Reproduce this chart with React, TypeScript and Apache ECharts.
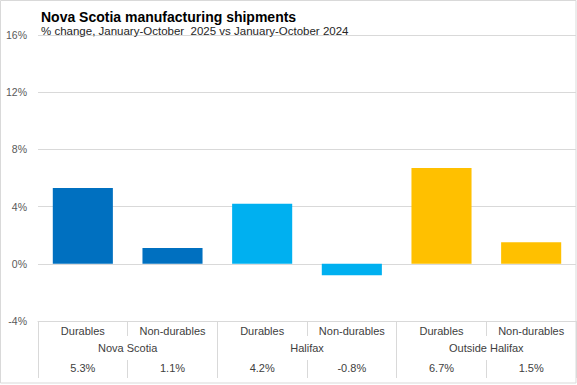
import React, { useEffect, useRef } from "react";
import * as echarts from "echarts";

const categories = ["Durables", "Non-durables", "Durables", "Non-durables", "Durables", "Non-durables"];
const groups = ["Nova Scotia", "Halifax", "Outside Halifax"];
const values = [5.3, 1.1, 4.2, -0.8, 6.7, 1.5];
const barColors = ["#0070C0", "#0070C0", "#00B0F0", "#00B0F0", "#FFC000", "#FFC000"];
const yTicks = { min: -4, max: 16, interval: 4 };

const FONT = "Liberation Sans";
const TXT = "#404040";
const LINE = "#d9d9d9";

export default function App() {
  const ref = useRef<HTMLDivElement>(null);
  useEffect(() => {
    document.body.style.margin = "0";
    const chart = echarts.init(ref.current!, null, { renderer: "svg" });
    chart.setOption({
      animation: false,
      textStyle: { fontFamily: FONT },
      title: {
        text: "Nova Scotia manufacturing shipments",
        subtext: "% change, January-October  2025 vs January-October 2024",
        left: 36,
        top: 5,
        itemGap: 1,
        textStyle: { fontFamily: FONT, fontSize: 14, fontWeight: "bold", color: "#000" },
        subtextStyle: { fontFamily: FONT, fontSize: 11.5, color: "#262626" },
      },
      graphic: [
        {
          type: "rect",
          shape: { x: 0.5, y: 0.5, width: 575.5, height: 382.5 },
          style: { fill: "none", stroke: LINE, lineWidth: 1 },
          silent: true,
        },
      ],
      grid: { left: 38, right: 1, top: 35, bottom: 64, containLabel: false },
      yAxis: {
        type: "value",
        min: yTicks.min,
        max: yTicks.max,
        interval: yTicks.interval,
        axisLine: { show: false },
        axisTick: { show: false },
        axisLabel: { formatter: (v: number) => `${v}%`, color: "#595959", fontSize: 10.5, margin: 11, fontFamily: FONT },
        splitLine: { lineStyle: { color: LINE, width: 1 } },
      },
      xAxis: [
        {
          type: "category",
          data: categories,
          position: "bottom",
          axisLine: { show: true, onZero: false, lineStyle: { color: LINE } },
          axisTick: { show: true, interval: 0, length: 15, lineStyle: { color: LINE } },
          axisLabel: { interval: 0, color: TXT, fontSize: 11, margin: 4, fontFamily: FONT },
        },
        {
          type: "category",
          data: groups,
          position: "bottom",
          axisLine: { show: false, onZero: false },
          axisTick: { show: true, interval: 0, length: 57, lineStyle: { color: LINE } },
          axisLabel: { interval: 0, color: TXT, fontSize: 11, margin: 21, fontFamily: FONT },
        },
        {
          type: "category",
          data: categories.map((c, i) => `${c}-${i}`),
          position: "bottom",
          offset: 39,
          axisLine: { show: false, onZero: false },
          axisTick: { show: true, interval: 0, length: 18, lineStyle: { color: LINE } },
          axisLabel: {
            interval: 0,
            color: TXT,
            fontSize: 11,
            margin: 2,
            fontFamily: FONT,
            formatter: (_: string, i: number) => `${values[i].toFixed(1)}%`,
          },
        },
      ],
      series: [
        {
          type: "bar",
          xAxisIndex: 0,
          barCategoryGap: "33%",
          data: values.map((v, i) => ({ value: v, itemStyle: { color: barColors[i] } })),
        },
      ],
    });
    return () => chart.dispose();
  }, []);
  return <div ref={ref} style={{ width: 577, height: 385 }} />;
}
